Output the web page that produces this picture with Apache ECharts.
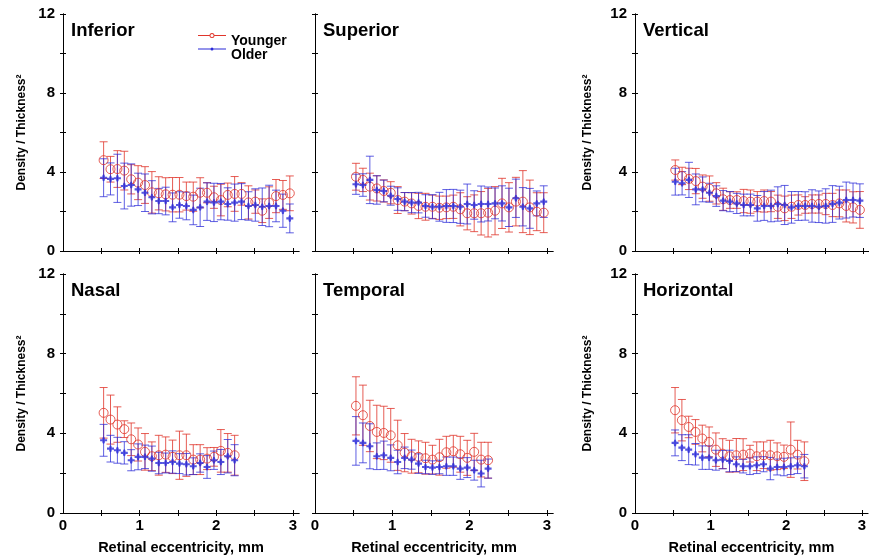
<!DOCTYPE html>
<html>
<head>
<meta charset="utf-8">
<script src="https://cdn.jsdelivr.net/npm/echarts@6/dist/echarts.min.js"></script>
<style>
html,body{margin:0;padding:0;background:#fff}
#main{width:869px;height:559px}
</style>
</head>
<body>
<div id="main"></div>
<script>
// eccentricity (mm) of each sample
var xTop = [0.53,0.62,0.71,0.80,0.89,0.98,1.07,1.16,1.25,1.34,1.43,1.52,1.61,1.70,
            1.79,1.88,1.97,2.06,2.15,2.24,2.33,2.42,2.51,2.60,2.69,2.78,2.87,2.96];
var xBottom = [0.53,0.62,0.71,0.80,0.89,0.98,1.07,1.16,1.25,1.34,
               1.43,1.52,1.61,1.70,1.79,1.88,1.97,2.06,2.15,2.24];

var xTicks = [0.5,1,1.5,2,2.5,3];
var xTickLabels = [0,1,2,3];

// mean and error for each group
var inferiorYoung    = [4.60,4.14,4.15,4.07,3.63,3.46,3.34,2.97,2.92,2.87,2.85,2.85,2.78,2.75,2.95,2.95,2.72,2.58,2.84,2.89,2.89,2.46,2.50,2.04,2.45,2.78,2.84,2.92];
var inferiorYoungErr = [0.93,0.65,0.93,0.98,0.74,0.86,0.93,1.05,0.84,0.84,0.87,0.87,0.71,0.74,0.76,0.51,0.56,0.80,0.60,0.88,0.57,0.84,0.59,0.60,0.80,0.84,0.73,0.88];
var inferiorOld      = [3.71,3.65,3.68,3.29,3.34,3.12,2.95,2.72,2.53,2.53,2.21,2.33,2.28,2.08,2.21,2.50,2.46,2.50,2.38,2.45,2.50,2.28,2.33,2.24,2.28,2.28,2.04,1.65];
var inferiorOldErr   = [0.96,0.81,1.22,1.16,1.07,0.82,0.95,0.84,0.64,0.70,0.73,0.67,0.70,0.75,0.97,0.95,0.97,0.92,0.82,0.94,0.91,0.72,0.82,0.95,1.05,0.80,0.84,0.73];

var superiorYoung    = [3.76,3.60,3.26,3.17,3.04,2.95,2.58,2.50,2.41,2.28,2.24,2.24,2.19,2.21,2.24,2.11,1.91,1.91,1.91,1.94,2.04,2.41,2.21,2.50,2.50,2.21,1.99,1.94];
var superiorYoungErr = [0.68,0.59,0.68,0.64,0.56,0.56,0.68,0.46,0.54,0.64,0.68,0.59,0.59,0.57,0.59,0.84,0.84,0.93,1.10,1.23,1.22,1.27,1.25,1.23,1.57,1.38,0.96,1.01];
var superiorOld      = [3.38,3.34,3.60,3.09,3.04,2.80,2.63,2.50,2.45,2.45,2.28,2.24,2.24,2.28,2.28,2.24,2.38,2.33,2.38,2.38,2.41,2.41,2.21,2.67,2.24,2.16,2.41,2.50];
var superiorOldErr   = [0.51,0.57,1.20,0.72,0.55,0.48,0.57,0.46,0.51,0.52,0.57,0.61,0.73,0.83,0.84,0.84,1.01,0.72,0.91,0.86,0.78,0.89,0.97,0.97,0.97,1.01,0.63,0.80];

var verticalYoung    = [4.10,3.80,3.65,3.54,3.26,3.16,2.92,2.62,2.58,2.58,2.53,2.50,2.50,2.53,2.50,2.24,2.16,2.24,2.33,2.33,2.38,2.38,2.38,2.33,2.41,2.28,2.21,2.08];
var verticalYoungErr = [0.51,0.44,0.54,0.64,0.59,0.64,0.54,0.56,0.42,0.42,0.59,0.59,0.51,0.56,0.51,0.59,0.62,0.59,0.51,0.42,0.46,0.46,0.54,0.59,0.68,0.81,0.79,0.93];
var verticalOld      = [3.51,3.43,3.60,3.12,3.12,2.95,2.78,2.55,2.50,2.41,2.33,2.33,2.16,2.28,2.28,2.38,2.33,2.21,2.28,2.28,2.28,2.24,2.28,2.38,2.45,2.58,2.58,2.55];
var verticalOldErr   = [0.68,0.59,0.89,0.78,0.63,0.48,0.52,0.51,0.51,0.51,0.55,0.55,0.65,0.73,0.80,0.87,0.99,0.80,0.73,0.72,0.82,0.80,0.87,0.93,0.83,0.91,0.86,0.85];

var nasalYoung       = [5.03,4.69,4.44,4.21,3.70,3.44,3.07,2.85,2.90,2.93,2.82,2.90,2.90,2.68,2.68,2.73,2.82,3.12,3.02,2.90];
var nasalYoungErr    = [1.27,1.23,0.89,0.42,0.82,0.83,0.92,0.72,1.00,0.89,0.84,1.21,1.06,0.75,0.75,0.55,0.47,1.07,0.97,1.00];
var nasalOld         = [3.65,3.23,3.15,3.02,2.65,2.82,2.82,2.73,2.51,2.51,2.56,2.48,2.45,2.35,2.51,2.31,2.65,2.56,2.85,2.65];
var nasalOldErr      = [0.80,0.67,0.65,0.56,0.53,0.65,0.59,0.63,0.54,0.50,0.56,0.50,0.54,0.42,0.46,0.57,0.46,0.63,0.84,0.78];

var temporalYoung    = [5.38,4.91,4.37,4.07,4.02,3.90,3.40,3.03,2.85,2.82,2.75,2.68,2.80,3.05,3.10,2.95,2.77,3.07,2.68,2.65];
var temporalYoungErr = [1.46,1.51,1.29,1.34,1.34,1.35,1.26,0.96,0.85,0.80,0.80,0.72,0.90,0.80,0.80,0.90,0.88,0.93,0.87,0.90];
var temporalOld      = [3.62,3.52,3.35,2.85,2.90,2.77,2.56,2.77,2.68,2.48,2.31,2.28,2.31,2.35,2.35,2.23,2.28,2.15,1.98,2.23];
var temporalOldErr   = [1.22,1.00,1.13,0.67,0.71,0.65,0.59,0.54,0.48,0.49,0.34,0.34,0.34,0.46,0.46,0.54,0.50,0.50,0.67,0.48];

var horizontalYoung    = [5.16,4.66,4.32,4.07,3.74,3.57,3.18,2.98,2.85,2.90,2.93,2.98,2.85,2.90,2.90,2.85,2.82,3.18,2.93,2.60];
var horizontalYoungErr = [1.14,1.04,0.54,0.62,0.67,0.75,0.84,0.75,0.80,0.84,0.80,0.42,0.72,0.67,0.75,0.67,0.59,1.39,0.72,0.97];
var horizontalOld      = [3.52,3.28,3.18,2.95,2.78,2.78,2.65,2.68,2.61,2.45,2.35,2.35,2.40,2.45,2.23,2.31,2.31,2.35,2.40,2.35];
var horizontalOldErr   = [0.65,0.65,0.75,0.54,0.59,0.59,0.50,0.46,0.54,0.37,0.34,0.42,0.42,0.38,0.56,0.40,0.44,0.42,0.42,0.59];

var RED = '#e0352b', BLUE = '#2a2ad8';
var FONT = 'Liberation Sans, Arial, sans-serif';

var panels = [
  {name:'Inferior',   x:xTop,    y:inferiorYoung,   ye:inferiorYoungErr,   o:inferiorOld,   oe:inferiorOldErr,   left:63,  top:14,  width:236, height:237, yLab:true,  xLab:false, gap:35},
  {name:'Superior',   x:xTop,    y:superiorYoung,   ye:superiorYoungErr,   o:superiorOld,   oe:superiorOldErr,   left:315, top:14,  width:238, height:237, yLab:false, xLab:false},
  {name:'Vertical',   x:xTop,    y:verticalYoung,   ye:verticalYoungErr,   o:verticalOld,   oe:verticalOldErr,   left:635, top:14,  width:238, height:237, yLab:true,  xLab:false, gap:41},
  {name:'Nasal',      x:xBottom, y:nasalYoung,      ye:nasalYoungErr,      o:nasalOld,      oe:nasalOldErr,      left:63,  top:274, width:236, height:239, yLab:true,  xLab:true,  gap:35},
  {name:'Temporal',   x:xBottom, y:temporalYoung,   ye:temporalYoungErr,   o:temporalOld,   oe:temporalOldErr,   left:315, top:274, width:238, height:239, yLab:false, xLab:true},
  {name:'Horizontal', x:xBottom, y:horizontalYoung, ye:horizontalYoungErr, o:horizontalOld, oe:horizontalOldErr, left:635, top:274, width:238, height:239, yLab:true,  xLab:true,  gap:41}
];

function errBar(params, api) {
  var x = api.value(0);
  var lo = api.coord([x, api.value(1)]);
  var hi = api.coord([x, api.value(2)]);
  var c = 4;
  var st = {stroke: api.visual('color'), lineWidth: 1};
  return {type:'group', children:[
    {type:'line', shape:{x1:lo[0], y1:lo[1], x2:hi[0], y2:hi[1]}, style:st},
    {type:'line', shape:{x1:lo[0]-c, y1:lo[1], x2:lo[0]+c, y2:lo[1]}, style:st},
    {type:'line', shape:{x1:hi[0]-c, y1:hi[1], x2:hi[0]+c, y2:hi[1]}, style:st}
  ]};
}

var grid = [], xAxis = [], yAxis = [], series = [], title = [];
var axLine = {lineStyle:{color:'#000', width:1}};

panels.forEach(function(p, i){
  grid.push({left:p.left, top:p.top, width:p.width, height:p.height});
  title.push({text:p.name, left:p.left + 8, top:p.top + 7, padding:0,
    textStyle:{fontFamily:FONT, fontWeight:'bold', fontSize:18.5, color:'#000'}});

  xAxis.push({gridIndex:i, type:'value', min:0, max:3.08, position:'bottom',
    axisLine:axLine, splitLine:{show:false},
    axisTick:{inside:true, length:3, customValues:xTicks, lineStyle:{color:'#000'}},
    axisLabel:{show:p.xLab, customValues:xTickLabels, margin:5, fontFamily:FONT, fontWeight:'bold', fontSize:15, color:'#000'},
    name:p.xLab ? 'Retinal eccentricity, mm' : '', nameLocation:'middle', nameGap:27,
    nameTextStyle:{fontFamily:FONT, fontWeight:'bold', fontSize:14.5, color:'#000'}});
  xAxis.push({gridIndex:i, type:'value', min:0, max:3.08, position:'top',
    axisLine:axLine, splitLine:{show:false},
    axisTick:{inside:true, length:3, customValues:xTicks, lineStyle:{color:'#000'}},
    axisLabel:{show:false}});

  yAxis.push({gridIndex:i, type:'value', min:0, max:12, interval:2, position:'left',
    axisLine:axLine, splitLine:{show:false},
    axisTick:{inside:true, length:3, lineStyle:{color:'#000'}},
    axisLabel:{show:p.yLab, margin:8, fontFamily:FONT, fontWeight:'bold', fontSize:15, color:'#000',
      formatter:function(v){ return v % 4 === 0 ? v : ''; }},
    name:p.yLab ? 'Density / Thickness\u00B2' : '', nameLocation:'middle', nameGap:p.gap || 40,
    nameTextStyle:{fontFamily:FONT, fontWeight:'bold', fontSize:12, color:'#000'}});
  yAxis.push({gridIndex:i, type:'value', min:0, max:12, interval:2, position:'right',
    axisLine:axLine, splitLine:{show:false},
    axisTick:{inside:true, length:3, lineStyle:{color:'#000'}},
    axisLabel:{show:false}});

  var xi = i * 2, yi = i * 2;
  var yb = [], ob = [], yp = [], op = [];
  for (var k = 0; k < p.x.length; k++) {
    yb.push([p.x[k], p.y[k] - p.ye[k], p.y[k] + p.ye[k]]);
    ob.push([p.x[k], p.o[k] - p.oe[k], p.o[k] + p.oe[k]]);
    yp.push([p.x[k], p.y[k]]);
    op.push([p.x[k], p.o[k]]);
  }
  series.push({name:'Younger', type:'custom', xAxisIndex:xi, yAxisIndex:yi, renderItem:errBar,
    itemStyle:{color:'rgba(224,53,43,0.8)'}, encode:{x:0, y:[1,2]}, data:yb, silent:true});
  series.push({name:'Older', type:'custom', xAxisIndex:xi, yAxisIndex:yi, renderItem:errBar,
    itemStyle:{color:'rgba(42,42,216,0.75)'}, encode:{x:0, y:[1,2]}, data:ob, silent:true});
  series.push({name:'Younger', type:'scatter', xAxisIndex:xi, yAxisIndex:yi, symbol:'circle', symbolSize:9,
    itemStyle:{color:'rgba(0,0,0,0)', borderColor:RED, borderWidth:1}, data:yp});
  series.push({name:'Older', type:'scatter', xAxisIndex:xi, yAxisIndex:yi,
    symbol:'path://M0,4.4H10V5.6H0Z M3,5A2,2 0 1,1 7,5A2,2 0 1,1 3,5Z', symbolSize:7,
    itemStyle:{color:BLUE}, data:op});
});

var myChart = echarts.init(document.getElementById('main'));
myChart.setOption({
  backgroundColor:'#fff',
  animation:false,
  title:title,
  legend:{
    orient:'vertical', left:198, top:33, padding:0, itemGap:-2, itemWidth:28, itemHeight:20,
    textStyle:{fontFamily:FONT, fontWeight:'bold', fontSize:14, color:'#000'},
    data:[
      {name:'Younger', icon:'path://M0,5.5H11.5V6.5H0Z M16.5,5.5H28V6.5H16.5Z M11.5,6A2.5,2.5 0 1,1 16.5,6A2.5,2.5 0 1,1 11.5,6Z M12.4,6A1.6,1.6 0 1,0 15.6,6A1.6,1.6 0 1,0 12.4,6Z M0,20L0.01,20L0,20Z', itemStyle:{color:RED}},
      {name:'Older', icon:'path://M0,5.5H28V6.5H0Z M12.5,6A1.5,1.5 0 1,1 15.5,6A1.5,1.5 0 1,1 12.5,6Z M0,20L0.01,20L0,20Z', itemStyle:{color:BLUE}}
    ]
  },
  grid:grid,
  xAxis:xAxis,
  yAxis:yAxis,
  series:series
});
</script>
</body>
</html>
